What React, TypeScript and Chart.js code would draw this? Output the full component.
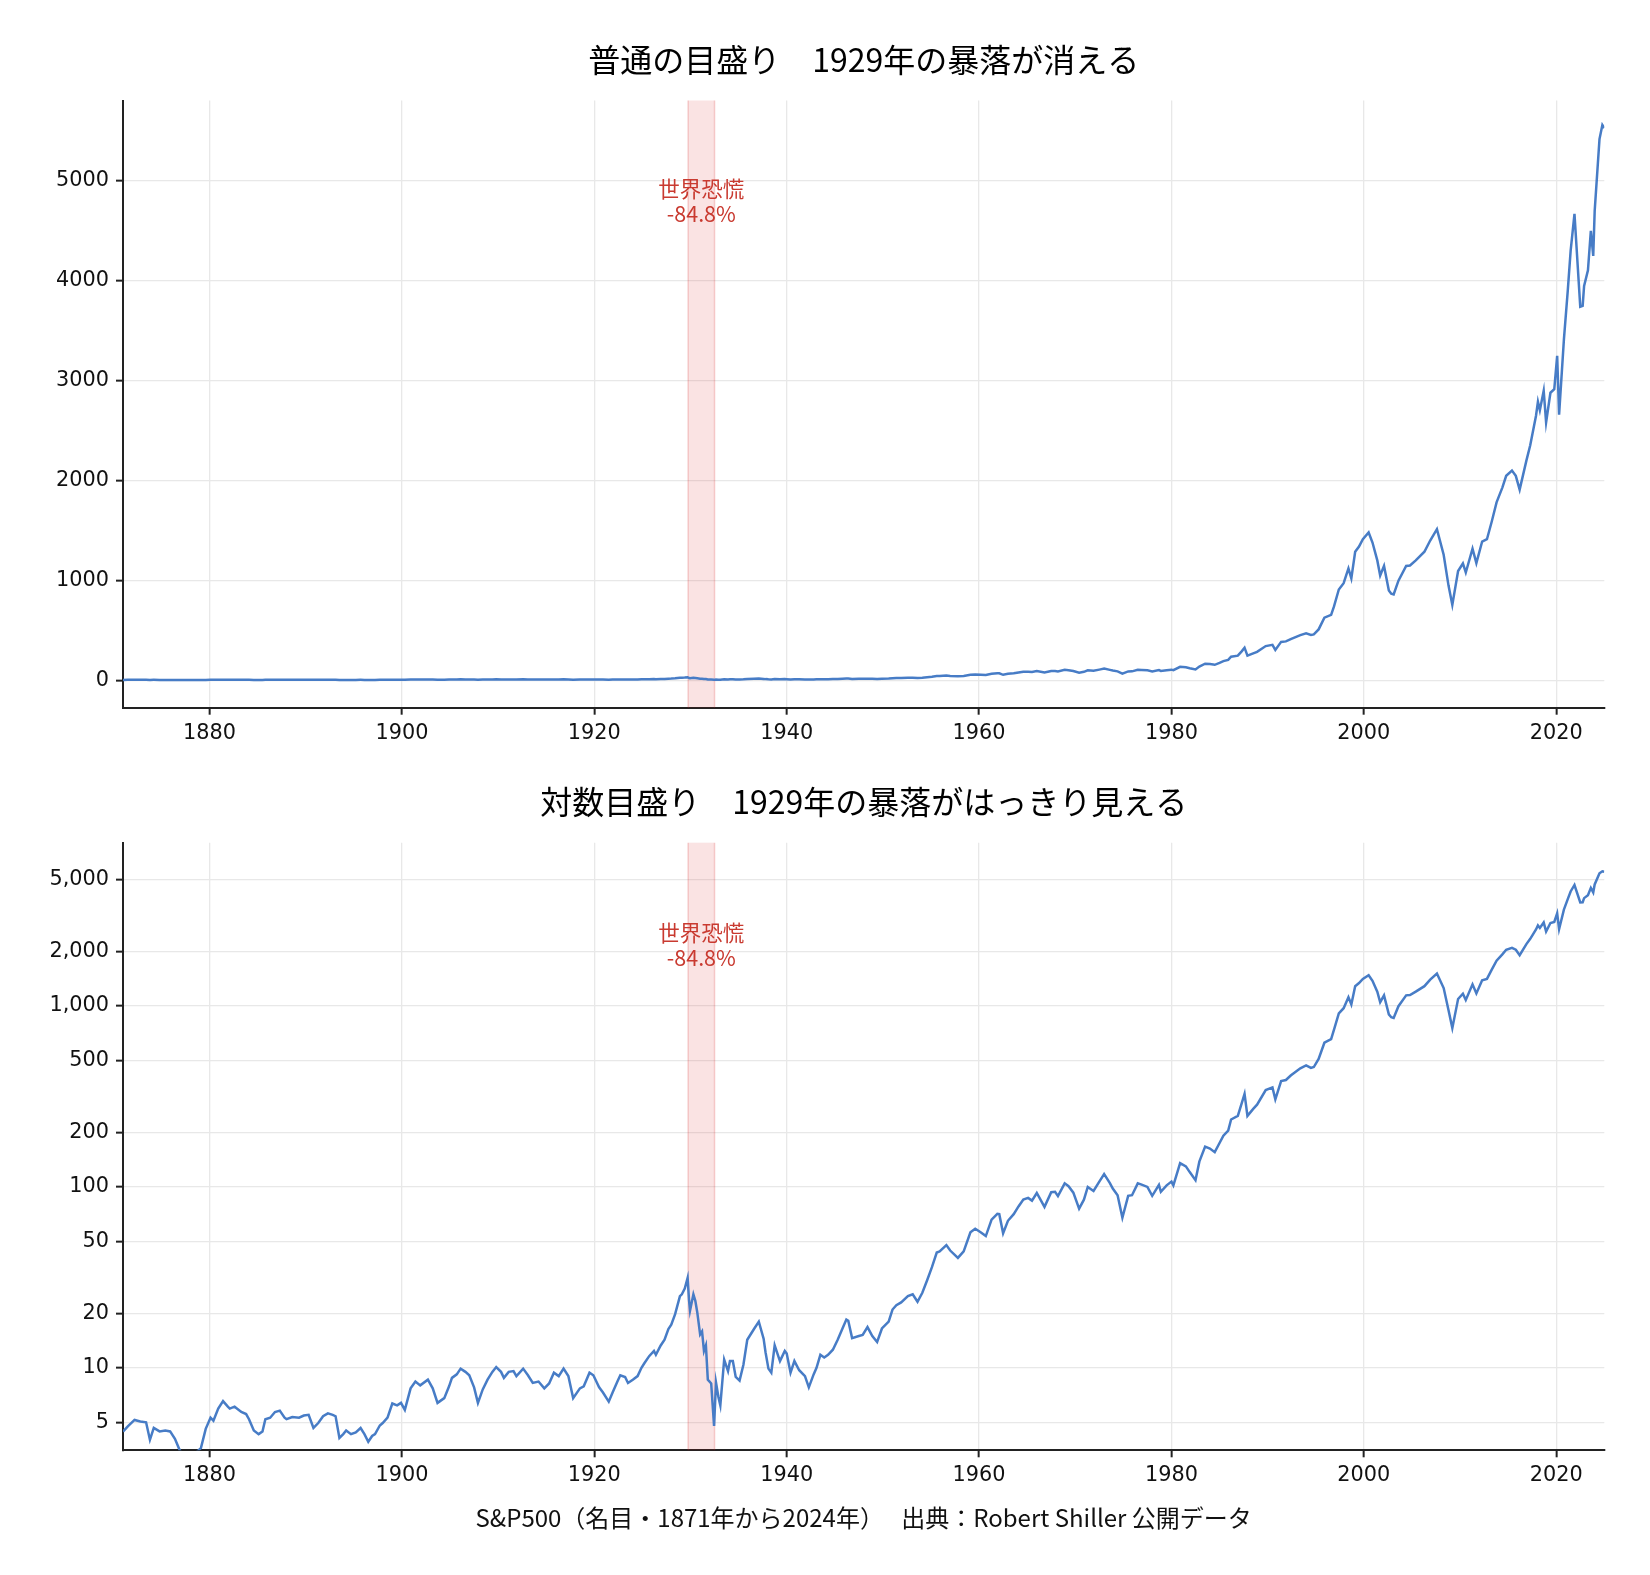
import React, { useEffect, useRef } from 'react';
import { Chart, registerables } from 'chart.js';

Chart.register(...registerables);

// S&P500 nominal price (decimal year, index level)
const years = [
  1871.0, 1871.5, 1872.2, 1872.8, 1873.4, 1873.8, 1874.2, 1874.8, 1875.4, 1875.9,
  1876.4, 1876.9, 1877.4, 1878.0, 1878.6, 1879.1, 1879.6, 1880.1, 1880.4, 1880.9,
  1881.4, 1881.9, 1882.1, 1882.6, 1883.3, 1883.8, 1884.1, 1884.6, 1885.1, 1885.5,
  1885.8, 1886.3, 1886.8, 1887.3, 1887.8, 1888.0, 1888.6, 1889.3, 1889.8, 1890.3,
  1890.8, 1891.3, 1891.8, 1892.3, 1892.8, 1893.1, 1893.5, 1893.9, 1894.2, 1894.7,
  1895.2, 1895.7, 1896.1, 1896.5, 1896.9, 1897.2, 1897.7, 1898.0, 1898.5, 1899.0,
  1899.5, 1899.9, 1900.3, 1900.9, 1901.4, 1901.9, 1902.7, 1903.2, 1903.7, 1904.4,
  1904.9, 1905.2, 1905.7, 1906.1, 1906.6, 1907.0, 1907.5, 1907.9, 1908.4, 1908.9,
  1909.4, 1909.8, 1910.3, 1910.6, 1911.1, 1911.6, 1911.9, 1912.6, 1913.1, 1913.6,
  1914.2, 1914.8, 1915.3, 1915.8, 1916.3, 1916.8, 1917.3, 1917.8, 1918.5, 1918.9,
  1919.5, 1919.9, 1920.5, 1920.9, 1921.5, 1921.9, 1922.4, 1922.7, 1923.2, 1923.5,
  1924.0, 1924.5, 1924.9, 1925.2, 1925.7, 1926.2, 1926.4, 1926.9, 1927.3, 1927.7,
  1928.0, 1928.4, 1928.9, 1929.1, 1929.4, 1929.7, 1929.85, 1929.95, 1930.3, 1930.5,
  1930.7, 1931.0, 1931.2, 1931.4, 1931.6, 1931.8, 1932.15, 1932.45, 1932.65, 1932.9,
  1933.1, 1933.5, 1933.9, 1934.1, 1934.4, 1934.7, 1935.1, 1935.5, 1935.9, 1936.6,
  1937.1, 1937.6, 1937.8, 1938.1, 1938.4, 1938.75, 1939.3, 1939.8, 1940.0, 1940.4,
  1940.8, 1941.3, 1941.9, 1942.3, 1942.8, 1943.1, 1943.5, 1943.9, 1944.3, 1944.8,
  1945.3, 1945.8, 1946.2, 1946.4, 1946.8, 1947.5, 1947.9, 1948.4, 1948.9, 1949.4,
  1949.9, 1950.6, 1951.0, 1951.4, 1951.9, 1952.6, 1953.1, 1953.6, 1954.1, 1954.6,
  1955.1, 1955.6, 1955.9, 1956.6, 1957.0, 1957.8, 1958.4, 1959.1, 1959.6, 1960.2,
  1960.7, 1961.3, 1961.9, 1962.1, 1962.5, 1963.0, 1963.6, 1964.1, 1964.6, 1965.1,
  1965.5, 1966.0, 1966.8, 1967.5, 1967.9, 1968.2, 1968.9, 1969.3, 1969.8, 1970.4,
  1970.9, 1971.3, 1971.9, 1972.5, 1973.0, 1973.6, 1973.9, 1974.4, 1974.9, 1975.5,
  1975.9, 1976.5, 1976.9, 1977.5, 1978.0, 1978.7, 1978.9, 1979.5, 1980.0, 1980.2,
  1980.9, 1981.5, 1981.9, 1982.5, 1982.9, 1983.5, 1984.0, 1984.5, 1985.0, 1985.4,
  1985.9, 1986.2, 1986.9, 1987.3, 1987.6, 1987.9, 1988.5, 1988.9, 1989.8, 1990.5,
  1990.8, 1991.4, 1991.9, 1992.4, 1993.4, 1994.0, 1994.5, 1994.8, 1995.3, 1995.9,
  1996.6, 1996.9, 1997.4, 1997.9, 1998.4, 1998.7, 1999.1, 1999.5, 1999.9, 2000.5,
  2000.9, 2001.4, 2001.7, 2002.1, 2002.6, 2002.85, 2003.1, 2003.6, 2004.4, 2004.8,
  2005.4, 2006.3, 2006.9, 2007.6, 2008.3, 2008.8, 2009.2, 2009.8, 2010.3, 2010.6,
  2011.3, 2011.7, 2012.3, 2012.8, 2013.3, 2013.8, 2014.4, 2014.8, 2015.4, 2015.8,
  2016.2, 2016.9, 2017.3, 2017.9, 2018.1, 2018.3, 2018.7, 2018.95, 2019.4, 2019.8,
  2020.1, 2020.3, 2020.8, 2021.2, 2021.5, 2021.9, 2022.5, 2022.75, 2022.9, 2023.3,
  2023.6, 2023.85, 2024.0, 2024.5, 2024.8, 2025.0,
];

const prices = [
  4.44, 4.75, 5.15, 5.05, 5.0, 4.0, 4.65, 4.45, 4.5, 4.45,
  4.05, 3.5, 3.2, 3.3, 3.4, 3.6, 4.6, 5.3, 5.1, 5.95,
  6.55, 6.1, 5.95, 6.1, 5.7, 5.55, 5.2, 4.5, 4.3, 4.45,
  5.2, 5.3, 5.7, 5.8, 5.3, 5.2, 5.35, 5.3, 5.45, 5.5,
  4.65, 4.95, 5.4, 5.6, 5.5, 5.4, 4.1, 4.3, 4.5, 4.3,
  4.4, 4.65, 4.3, 3.9, 4.2, 4.3, 4.8, 4.95, 5.3, 6.35,
  6.2, 6.4, 5.85, 7.7, 8.4, 8.0, 8.6, 7.7, 6.4, 6.8,
  7.9, 8.8, 9.2, 9.9, 9.5, 9.1, 7.8, 6.4, 7.6, 8.6,
  9.5, 10.1, 9.5, 8.8, 9.5, 9.6, 9.0, 9.9, 9.1, 8.25,
  8.4, 7.7, 8.2, 9.4, 9.0, 9.9, 9.0, 6.8, 7.7, 7.9,
  9.4, 9.1, 7.8, 7.3, 6.5, 7.3, 8.4, 9.1, 8.9, 8.25,
  8.6, 9.0, 10.0, 10.6, 11.6, 12.4, 11.8, 13.3, 14.3, 16.4,
  17.3, 19.8, 24.9, 25.5, 27.4, 31.4, 23.5, 20.7, 25.5, 23.5,
  20.3, 15.3, 15.9, 12.4, 13.3, 8.6, 8.2, 4.77, 8.3, 6.9,
  6.2, 11.1, 9.6, 10.9, 10.9, 8.9, 8.5, 10.4, 14.3, 16.4,
  18.0, 14.5, 12.2, 9.9, 9.4, 13.3, 10.9, 12.4, 12.0, 9.4,
  10.9, 9.7, 9.0, 7.8, 9.2, 10.0, 11.8, 11.4, 11.8, 12.6,
  14.3, 16.5, 18.5, 18.2, 14.6, 15.0, 15.2, 16.8, 15.0, 13.9,
  16.5, 18.0, 21.0, 22.2, 23.0, 24.9, 25.5, 23.2, 26.0, 30.5,
  36.0, 43.4, 44.0, 47.7, 44.5, 40.5, 44.0, 56.1, 58.7, 56.0,
  53.5, 65.9, 71.0, 70.7, 55.5, 65.0, 70.7, 78.0, 85.2, 87.0,
  84.0, 92.6, 77.6, 93.5, 94.0, 89.0, 104.7, 101.0, 93.0, 75.9,
  85.0, 100.0, 95.0, 107.0, 117.8, 105.0, 98.0, 90.0, 67.6, 89.3,
  90.0, 104.7, 103.0, 100.0, 89.3, 102.6, 94.0, 102.0, 107.0, 102.0,
  135.5, 130.0, 120.8, 109.0, 138.0, 167.0, 163.0, 155.7, 175.0, 192.0,
  205.0, 236.0, 247.0, 290.0, 327.0, 247.0, 270.0, 285.0, 343.0, 355.0,
  305.0, 385.0, 390.0, 413.0, 453.0, 470.0, 455.0, 460.0, 510.0, 627.0,
  656.0, 740.0, 910.0, 973.0, 1120.0, 1021.0, 1288.0, 1340.0, 1413.0, 1481.0,
  1380.0, 1201.0, 1050.0, 1146.0, 900.0, 867.0, 860.0, 998.0, 1146.0, 1150.0,
  1201.0, 1288.0, 1400.0, 1514.0, 1257.0, 951.0, 755.0, 1094.0, 1170.0, 1080.0,
  1318.0, 1174.0, 1390.0, 1413.0, 1590.0, 1782.0, 1930.0, 2048.0, 2100.0, 2048.0,
  1910.0, 2200.0, 2354.0, 2650.0, 2790.0, 2704.0, 2900.0, 2583.0, 2880.0, 2916.0,
  3250.0, 2660.0, 3412.0, 3900.0, 4300.0, 4670.0, 3741.0, 3750.0, 3950.0, 4105.0,
  4500.0, 4250.0, 4700.0, 5420.0, 5560.0, 5530.0,
];

const yearTicks = [1880, 1900, 1920, 1940, 1960, 1980, 2000, 2020];
const linearTicks = [0, 1000, 2000, 3000, 4000, 5000];
const logTicks = [5, 10, 20, 50, 100, 200, 500, 1000, 2000, 5000];

const crashStart = 1929.75;
const crashEnd = 1932.5;
const crashLines = ['世界恐慌', '-84.8%'];

const titleLinear = '普通の目盛り　1929年の暴落が消える';
const titleLog = '対数目盛り　1929年の暴落がはっきり見える';
const footerText = 'S&P500（名目・1871年から2024年）　 出典：Robert Shiller 公開データ';

const LINE_COLOR = '#477cc6';
const JP_FONT = '"Noto Sans CJK JP", "Noto Sans", sans-serif';
const TICK_FONT = { family: '"DejaVu Sans", sans-serif', size: 20.8 };

interface PanelProps {
  log: boolean;
  height: number;
  padTop: number;
  padBottom: number;
  title: string;
  titleY: number;
  labelValue: number;
  footerY?: number;
}

const Panel: React.FC<PanelProps> = ({ log, height, padTop, padBottom, title, titleY, labelValue, footerY }) => {
  const canvasRef = useRef<HTMLCanvasElement>(null);

  useEffect(() => {
    if (!canvasRef.current) return;

    const decor = {
      id: 'decor',
      beforeDatasetsDraw(chart: any) {
        const { ctx, chartArea, scales } = chart;
        const x0 = scales.x.getPixelForValue(crashStart);
        const x1 = scales.x.getPixelForValue(crashEnd);
        ctx.save();
        ctx.fillStyle = 'rgba(214, 39, 40, 0.13)';
        ctx.fillRect(x0, chartArea.top, x1 - x0, chartArea.bottom - chartArea.top);
        ctx.strokeStyle = 'rgba(214, 39, 40, 0.2)';
        ctx.lineWidth = 1.5;
        ctx.beginPath();
        ctx.moveTo(x0, chartArea.top);
        ctx.lineTo(x0, chartArea.bottom);
        ctx.moveTo(x1, chartArea.top);
        ctx.lineTo(x1, chartArea.bottom);
        ctx.stroke();
        ctx.restore();
      },
      afterDatasetsDraw(chart: any) {
        const { ctx, scales } = chart;
        const cx = scales.x.getPixelForValue((crashStart + crashEnd) / 2);
        const y1 = scales.y.getPixelForValue(labelValue);
        ctx.save();
        ctx.font = `21.5px ${JP_FONT}`;
        ctx.fillStyle = '#c93a30';
        ctx.textAlign = 'center';
        ctx.textBaseline = 'middle';
        crashLines.forEach((line, i) => ctx.fillText(line, cx, y1 + i * 25));
        ctx.restore();
      },
      afterDraw(chart: any) {
        const { ctx, chartArea } = chart;
        const cx = (chartArea.left + chartArea.right) / 2;
        ctx.save();
        ctx.fillStyle = '#000';
        ctx.textAlign = 'center';
        ctx.textBaseline = 'middle';
        ctx.font = `32px ${JP_FONT}`;
        ctx.fillText(title, cx, titleY);
        if (footerY !== undefined) {
          ctx.fillStyle = '#111';
          ctx.font = `24px ${JP_FONT}`;
          ctx.fillText(footerText, cx, footerY);
        }
        ctx.restore();
      },
    };

    const chart = new Chart(canvasRef.current, {
      type: 'line',
      data: {
        datasets: [{
          data: years.map((x, i) => ({ x, y: prices[i] })),
          borderColor: LINE_COLOR,
          borderWidth: 2.5,
          pointRadius: 0,
          tension: 0,
          fill: false,
        }],
      },
      options: {
        animation: false,
        responsive: false,
        devicePixelRatio: 1,
        layout: { padding: { top: padTop, bottom: padBottom, left: 0, right: 45.7 } },
        plugins: { legend: { display: false }, tooltip: { enabled: false }, title: { display: false } },
        scales: {
          x: {
            type: 'linear',
            min: 1871,
            max: 2025,
            afterBuildTicks: (s: any) => { s.ticks = yearTicks.map((value) => ({ value })); },
            afterFit: (s: any) => { s.height = 60; },
            ticks: {
              autoSkip: false,
              maxRotation: 0,
              padding: 6,
              color: '#111',
              font: TICK_FONT,
              callback: (v: any) => String(v),
            },
            grid: { color: '#e8e8e8', lineWidth: 1.3, tickColor: '#222', tickLength: 7, tickWidth: 2 },
            border: { display: true, color: '#222', width: 2 },
          },
          y: log ? {
            type: 'logarithmic',
            min: 3.5,
            max: 8000,
            afterBuildTicks: (s: any) => { s.ticks = logTicks.map((value) => ({ value })); },
            afterFit: (s: any) => { s.width = 123; },
            ticks: {
              autoSkip: false,
              padding: 7,
              color: '#111',
              font: TICK_FONT,
              callback: (v: any) => Number(v).toLocaleString('en-US'),
            },
            grid: { color: '#e8e8e8', lineWidth: 1.3, tickColor: '#222', tickLength: 7, tickWidth: 2 },
            border: { display: true, color: '#222', width: 2 },
          } : {
            type: 'linear',
            min: -274,
            max: 5806,
            afterBuildTicks: (s: any) => { s.ticks = linearTicks.map((value) => ({ value })); },
            afterFit: (s: any) => { s.width = 123; },
            ticks: {
              autoSkip: false,
              padding: 7,
              color: '#111',
              font: TICK_FONT,
              callback: (v: any) => String(v),
            },
            grid: { color: '#e8e8e8', lineWidth: 1.3, tickColor: '#222', tickLength: 7, tickWidth: 2 },
            border: { display: true, color: '#222', width: 2 },
          },
        },
      },
      plugins: [decor],
    } as any);

    return () => chart.destroy();
  }, [log, height, padTop, padBottom, title, titleY, labelValue, footerY]);

  return <canvas ref={canvasRef} width={1650} height={height} style={{ display: 'block', width: 1650, height }} />;
};

export default function App() {
  return (
    <div style={{ position: 'absolute', left: 0, top: 0, width: 1650, height: 1575, background: '#fff' }}>
      <Panel log={false} height={770} padTop={100.5} padBottom={2.3} title={titleLinear} titleY={60} labelValue={4920} />
      <Panel log height={805} padTop={72.7} padBottom={64.7} title={titleLog} titleY={32} labelValue={2550} footerY={748} />
    </div>
  );
}
